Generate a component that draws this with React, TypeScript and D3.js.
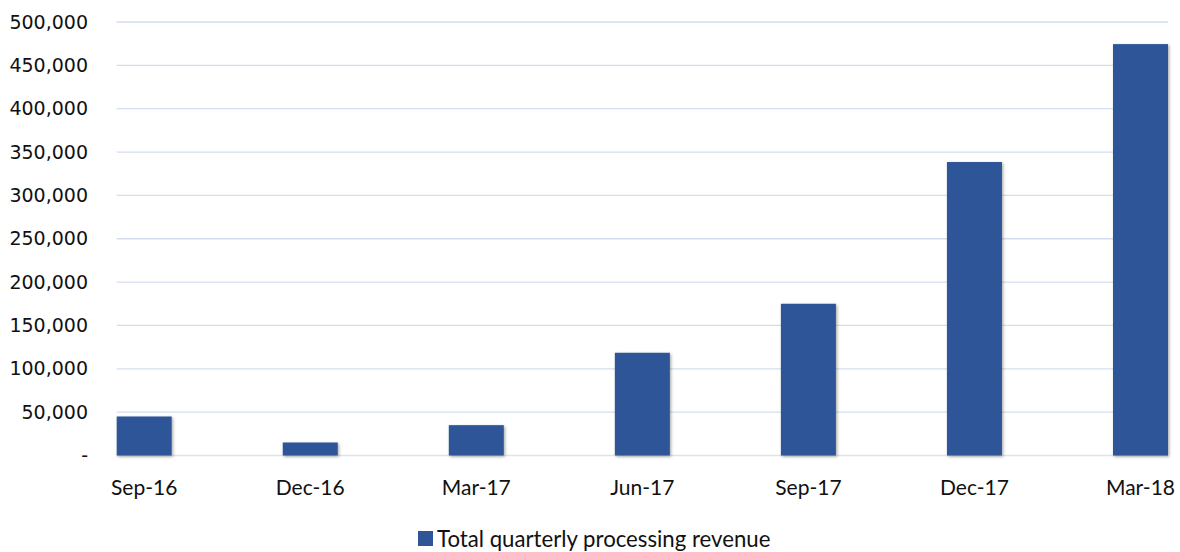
import React from "react";
import * as d3 from "d3";

const categories = ["Sep-16", "Dec-16", "Mar-17", "Jun-17", "Sep-17", "Dec-17", "Mar-18"];
const revenue = [45000, 15000, 35000, 118500, 175000, 338500, 474500];
const yTicks = [0, 50000, 100000, 150000, 200000, 250000, 300000, 350000, 400000, 450000, 500000];
const seriesName = "Total quarterly processing revenue";

const W = 1180;
const H = 552;
const plotLeft = 116.7;
const plotRight = 1168;
const plotTop = 22;
const plotBottom = 455.5;
const barW = 55;

export default function App() {
  const x = d3
    .scalePoint<string>()
    .domain(categories)
    .range([plotLeft + barW / 2, plotRight - barW / 2])
    .padding(0);
  const y = d3.scaleLinear().domain([0, 500000]).range([plotBottom, plotTop]);
  const fmt = d3.format(",");

  return (
    <svg
      width={W}
      height={H}
      style={{ position: "absolute", left: 0, top: 0, background: "#fff" }}
    >
      <defs>
        <filter id="shadow" x="-20%" y="-20%" width="140%" height="140%">
          <feDropShadow dx="1.2" dy="1.2" stdDeviation="1.6" floodColor="#000" floodOpacity="0.35" />
        </filter>
      </defs>
      {yTicks.map((t) =>
        t === 0 ? null : (
          <line
            key={"g" + t}
            x1={plotLeft}
            x2={plotRight}
            y1={y(t)}
            y2={y(t)}
            stroke="#D3DDEF"
            strokeWidth={1.3}
          />
        )
      )}
      <line x1={plotLeft} x2={plotRight} y1={y(0)} y2={y(0)} stroke="#E3E3E3" strokeWidth={1.3} />
      {yTicks.map((t) => (
        <text
          key={"t" + t}
          x={88}
          y={y(t)}
          dy="0.35em"
          textAnchor="end"
          fontFamily="DejaVu Sans"
          fontSize={19}
          fill="#111"
        >
          {t === 0 ? "-" : fmt(t)}
        </text>
      ))}
      {categories.map((c, i) => (
        <rect
          key={c}
          x={(x(c) as number) - barW / 2}
          y={y(revenue[i])}
          width={barW}
          height={y(0) - y(revenue[i])}
          fill="#2F5597"
          filter="url(#shadow)"
        />
      ))}
      {categories.map((c) => (
        <text
          key={"x" + c}
          x={x(c) as number}
          y={495}
          textAnchor="middle"
          fontFamily="Lato"
          fontSize={21}
          fill="#111"
        >
          {c}
        </text>
      ))}
      <rect x={418} y={531} width={15} height={15} fill="#2F5597" />
      <text x={437} y={546.5} fontFamily="Lato" fontSize={22.2} fill="#111">
        {seriesName}
      </text>
    </svg>
  );
}
